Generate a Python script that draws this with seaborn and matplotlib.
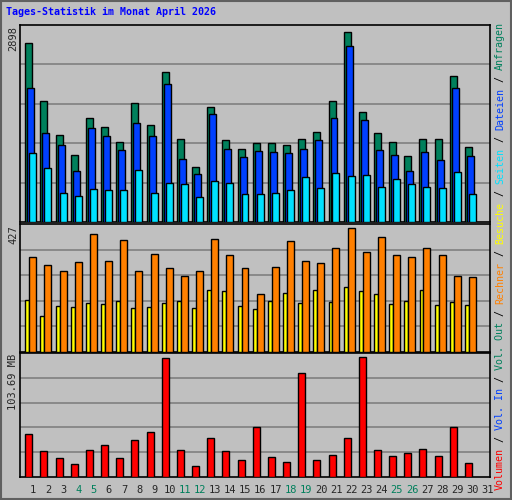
import numpy as np
import pandas as pd
import matplotlib
matplotlib.use("Agg")
import matplotlib.pyplot as plt
import seaborn as sns
from matplotlib.patches import Rectangle

days = list(range(1, 31))
anfragen = [2731,1851,1320,1017,1593,1441,1214,1821,1472,2291,1259,835,1760,1244,1108,
            1199,1199,1168,1259,1367,1851,2898,1684,1351,1214,1002,1259,1259,2231,1138]
dateien = [2048,1350,1168,774,1426,1305,1093,1502,1305,2109,956,728,1639,1108,986,
           1077,1062,1047,1108,1244,1578,2686,1548,1093,1017,774,1062,941,2048,1001]
seiten = [1047,819,440,395,501,486,486,789,440,592,577,379,622,592,425,
          425,440,486,683,516,744,698,713,531,652,577,531,516,759,425]
besuche = [181,125,160,157,171,167,178,153,157,171,178,153,213,210,160,
           149,178,203,171,213,174,224,210,199,167,178,213,164,174,164]
rechner = [327,302,281,310,409,313,388,281,338,292,263,281,391,334,292,
           199,295,384,313,306,359,427,345,398,334,327,359,334,263,260]
volumen_mb = [37.6,22.9,16.8,11.6,23.7,28.1,16.8,32.4,39.4,102.8,23.7,9.8,34.2,22.9,15.1,
              42.9,17.7,13.3,89.8,15.1,19.4,34.2,103.69,23.7,18.5,21.1,24.6,18.5,42.9,12.5]
tick_labels = [str(d) for d in range(1, 32)]
weekend = {4,5,11,12,18,19,25,26}

BG = "#c0c0c0"
GREEN, BLUE, CYAN = "#00805c", "#0040ff", "#00e0ff"
YELLOW, ORANGE, RED = "#ffff00", "#ff8000", "#ff0000"
MONO = "DejaVu Sans Mono"

sns.set_theme(style="white")
plt.rcParams["font.family"] = [MONO]
fig = plt.figure(figsize=(5.12, 5.0), dpi=100, facecolor=BG)
fig.patches.append(Rectangle((0.002, 0.002), 0.996, 0.996, transform=fig.transFigure,
                             fill=False, edgecolor="#606060", lw=1.5))

L, W = 20/512, 470/512
ax1 = fig.add_axes([L, 0.556, W, 0.394])
ax2 = fig.add_axes([L, 0.296, W, 0.256])
ax3 = fig.add_axes([L, 0.046, W, 0.248])

d = np.array(days, dtype=float)

def bars(ax, xs, ys, color, width):
    df = pd.DataFrame({"x": xs, "y": ys})
    sns.barplot(data=df, x="x", y="y", native_scale=True, width=width, color=color,
                saturation=1, edgecolor="black", linewidth=1, ax=ax, zorder=3)

bars(ax1, d + 0.08, anfragen, GREEN, 0.46)
bars(ax1, d + 0.21, dateien, BLUE, 0.46)
bars(ax1, d + 0.34, seiten, CYAN, 0.46)
bars(ax2, d - 0.02, besuche, YELLOW, 0.26)
bars(ax2, d + 0.34, rechner, ORANGE, 0.46)
bars(ax3, d + 0.08, volumen_mb, RED, 0.46)

for ax, mx in [(ax1, max(anfragen)), (ax2, max(rechner)), (ax3, max(volumen_mb))]:
    top = mx / 0.965
    ax.set_xlim(0.5, 31.5)
    ax.set_ylim(0, top)
    ax.set_facecolor(BG)
    for f in [0.2, 0.4, 0.6, 0.8]:
        ax.axhline(top * f, color="#808080", lw=1.2, zorder=1)
    ax.set_xticks([]); ax.set_yticks([])
    ax.set_xlabel(""); ax.set_ylabel("")
    for s in ax.spines.values():
        s.set_visible(True); s.set_color("black"); s.set_linewidth(1.2)

ax3.set_xticks(np.arange(1, 32) + 0.36)
ax3.set_xticklabels(tick_labels, fontsize=7.5)
ax3.tick_params(axis="x", length=0, pad=6)
for t, lab in zip(ax3.get_xticklabels(), tick_labels):
    if int(lab) in weekend:
        t.set_color(GREEN)

fig.text(6/512, 1 - 12/500, "Tages-Statistik im Monat April 2026", color="#0000ff",
         fontsize=7.2, fontweight="bold", va="center", ha="left")

for txt, ytop in [("2898", 26), ("427", 225), ("103.69 MB", 354)]:
    fig.text(13/512, 1 - ytop/500, txt, rotation=90, va="top", ha="center", fontsize=7.5)

parts = [("Volumen", RED), (" / ", "black"), ("Vol. In", BLUE), (" / ", "black"),
         ("Vol. Out", GREEN), (" / ", "black"), ("Rechner", ORANGE), (" / ", "black"),
         ("Besuche", YELLOW), (" / ", "black"), ("Seiten", CYAN), (" / ", "black"),
         ("Dateien", BLUE), (" / ", "black"), ("Anfragen", GREEN)]
ypx = 490
cw = 6.0
for txt, col in parts:
    fig.text(500/512, 1 - ypx/500, txt, rotation=90, va="bottom", ha="center",
             color=col, fontsize=7.2)
    ypx -= cw * len(txt)

fig.savefig("out.png", dpi=100, facecolor=BG)
